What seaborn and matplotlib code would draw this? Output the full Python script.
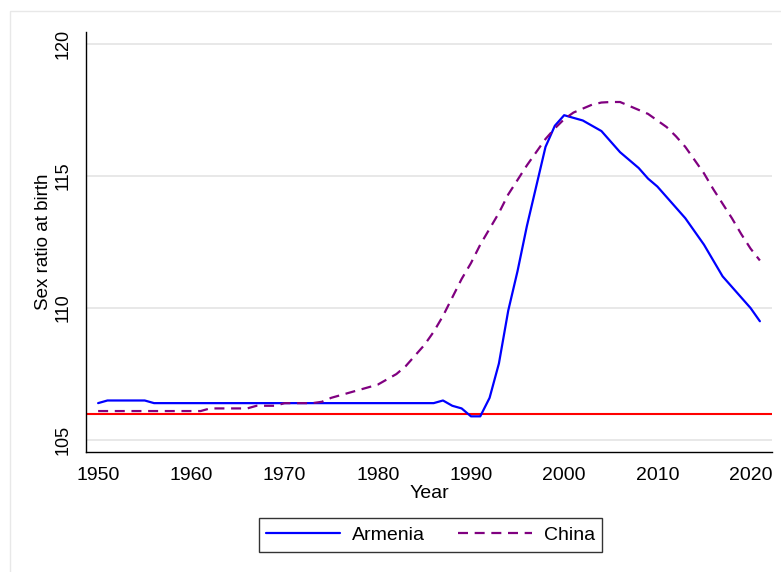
import numpy as np
import pandas as pd
import matplotlib
matplotlib.use("Agg")
import matplotlib.pyplot as plt
from matplotlib.patches import Rectangle
import seaborn as sns

years = list(range(1950, 2022))

armenia = ([106.4] + [106.5] * 5 + [106.4] * 31 +
           [106.5, 106.3, 106.2, 105.9, 105.9, 106.6, 107.9, 109.9, 111.4, 113.1,
            114.6, 116.1, 116.9, 117.3, 117.2, 117.1, 116.9, 116.7, 116.3, 115.9,
            115.6, 115.3, 114.9, 114.6, 114.2, 113.8, 113.4, 112.9, 112.4, 111.8,
            111.2, 110.8, 110.4, 110.0, 109.5])

china = ([106.1] * 12 + [106.2] * 5 + [106.3] * 3 + [106.4] * 4 +
         [106.45, 106.6, 106.7, 106.8, 106.9, 107.0, 107.1, 107.3, 107.5, 107.8,
          108.2, 108.6, 109.1, 109.7, 110.4, 111.1, 111.7, 112.4, 113.0, 113.6,
          114.3, 114.85, 115.4, 115.9, 116.4, 116.8, 117.15, 117.4, 117.55, 117.7,
          117.78, 117.8, 117.8, 117.65, 117.5, 117.35, 117.1, 116.85, 116.5, 116.1,
          115.6, 115.1, 114.5, 113.95, 113.4, 112.8, 112.25, 111.8])

countries = ["Armenia", "China"]
reference_ratio = 106
x_ticks = [1950, 1960, 1970, 1980, 1990, 2000, 2010, 2020]
y_ticks = [105, 110, 115, 120]

df = pd.DataFrame({
    "Year": years * 2,
    "Sex ratio at birth": armenia + china,
    "Country": ["Armenia"] * len(years) + ["China"] * len(years),
})

sns.set_style("white")
plt.rcParams["font.family"] = ["Liberation Sans", "DejaVu Sans"]
plt.rcParams["text.color"] = "black"
plt.rcParams["axes.labelcolor"] = "black"
plt.rcParams["xtick.color"] = "black"
plt.rcParams["ytick.color"] = "black"

fig = plt.figure(figsize=(7.81, 5.72), dpi=100)
fig.patch.set_facecolor("white")
W, H = 781, 572
ax = fig.add_axes([86 / W, 1 - 452 / H, (772 - 86) / W, (452 - 32) / H])

# outer graph-region border
fig.patches.append(Rectangle((10 / W, -0.1), 2, 1 - 11 / H + 0.1, transform=fig.transFigure,
                             fill=False, edgecolor="#e8e8e8", linewidth=1.0, zorder=0))

for yt in y_ticks:
    ax.axhline(yt, color="#e6e6e6", linewidth=1.3, zorder=0)

ax.axhline(reference_ratio, color="#ff0000", linewidth=1.5, zorder=1)

sns.lineplot(data=df, x="Year", y="Sex ratio at birth", hue="Country", style="Country",
             palette={"Armenia": "#0000ff", "China": "#800080"},
             dashes={"Armenia": "", "China": (4.5, 3)},
             linewidth=1.6, ax=ax, zorder=3)

ax.set_xlim(1948.7, 2022.3)
ax.set_ylim(104.55, 120.45)
ax.set_xticks(x_ticks)
ax.set_yticks(y_ticks)
ax.set_yticklabels([str(v) for v in y_ticks], rotation=90, va="center", fontsize=13)
ax.set_xticklabels([str(v) for v in x_ticks], fontsize=14)
ax.tick_params(axis="both", direction="out", length=6.5, width=0.8, color="black",
               labelcolor="black")
ax.tick_params(axis="x", pad=4)
ax.tick_params(axis="y", pad=4)
ax.set_xlabel("Year", fontsize=14, labelpad=1, color="black")
ax.set_ylabel("Sex ratio at birth", fontsize=13.5, labelpad=2, color="black")

for s in ["top", "right"]:
    ax.spines[s].set_visible(False)
for s in ["left", "bottom"]:
    ax.spines[s].set_color("black")
    ax.spines[s].set_linewidth(1.0)

handles, labels = ax.get_legend_handles_labels()
ax.get_legend().remove()
leg = fig.legend(handles, labels, loc="center", bbox_to_anchor=(430.5 / W, 1 - 535 / H),
                 ncol=2, fontsize=14, frameon=True, fancybox=False, handlelength=3.8,
                 handletextpad=0.6, columnspacing=1.7, borderpad=0.4, labelcolor="black")
leg.get_frame().set_edgecolor("black")
leg.get_frame().set_linewidth(1.0)

fig.savefig("out.png", dpi=100, facecolor="white")
